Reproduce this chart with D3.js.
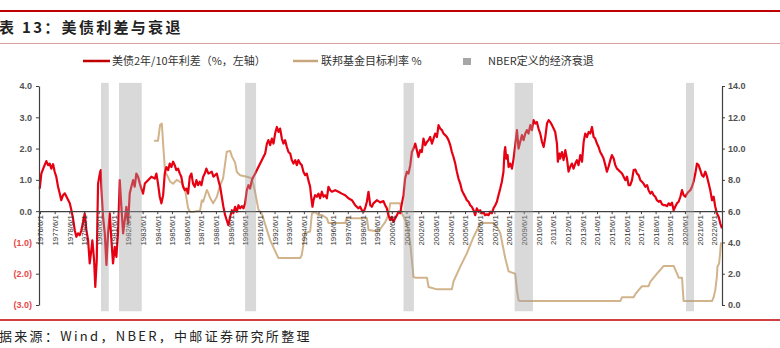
<!DOCTYPE html>
<html><head><meta charset="utf-8">
<script src="https://cdn.jsdelivr.net/npm/d3@7"></script>
<style>
html,body{margin:0;padding:0;background:#fff;}
svg{display:block;}
</style></head>
<body>
<svg id="chart" width="780" height="348"></svg>
<script>
// ---------------- DATA ----------------
const spreadDates = [
1976.40,1976.51,1976.69,1976.85,1976.97,1977.08,1977.19,1977.31,1977.42,1977.53,1977.65,1977.76,1977.87,1977.99,
1978.11,1978.28,1978.45,1978.56,1978.67,1978.79,1978.90,1979.01,1979.13,1979.24,1979.36,1979.47,1979.58,1979.70,
1979.81,1979.92,1979.99,1980.11,1980.19,1980.29,1980.33,1980.38,1980.50,1980.56,1980.60,1980.72,1980.84,1980.95,
1981.06,1981.18,1981.29,1981.40,1981.52,1981.63,1981.74,1981.86,1981.97,1982.09,1982.20,1982.31,1982.43,1982.54,
1982.65,1982.77,1982.88,1982.99,1983.11,1983.23,1983.33,1983.45,1983.57,1983.79,1984.02,1984.25,1984.36,1984.47,
1984.59,1984.70,1984.82,1984.93,1985.04,1985.16,1985.27,1985.38,1985.50,1985.61,1985.72,1985.84,1985.96,1986.06,
1986.18,1986.30,1986.41,1986.52,1986.64,1986.75,1986.86,1986.98,1987.09,1987.20,1987.32,1987.43,1987.55,1987.66,
1987.77,1987.91,1988.14,1988.25,1988.48,1988.59,1988.71,1988.82,1988.93,1989.05,1989.16,1989.27,1989.39,1989.51,
1989.61,1989.73,1989.85,1989.96,1990.07,1990.19,1990.30,1990.41,1990.53,1990.64,1990.75,1990.87,1990.98,1991.10,
1991.32,1991.55,1991.78,1991.90,1992.00,1992.12,1992.24,1992.35,1992.46,1992.58,1992.69,1992.80,1992.92,1993.03,
1993.14,1993.26,1993.37,1993.49,1993.60,1993.71,1993.83,1993.94,1994.05,1994.17,1994.28,1994.39,1994.51,1994.62,
1994.73,1994.85,1994.92,1995.01,1995.08,1995.19,1995.31,1995.42,1995.53,1995.65,1995.76,1995.87,1995.99,1996.10,
1996.22,1996.33,1996.56,1996.78,1997.01,1997.24,1997.46,1997.70,1997.92,1998.15,1998.26,1998.38,1998.49,1998.60,
1998.72,1998.83,1998.95,1999.06,1999.17,1999.40,1999.63,1999.85,1999.97,2000.08,2000.19,2000.31,2000.42,2000.54,
2000.65,2000.77,2000.88,2000.99,2001.11,2001.22,2001.33,2001.45,2001.56,2001.68,2001.79,2001.90,2002.02,2002.13,
2002.24,2002.36,2002.47,2002.58,2002.70,2002.82,2002.93,2003.04,2003.16,2003.27,2003.38,2003.50,2003.61,2003.72,
2003.84,2003.95,2004.06,2004.18,2004.29,2004.41,2004.52,2004.63,2004.75,2004.86,2004.97,2005.09,2005.20,2005.31,
2005.43,2005.54,2005.66,2005.77,2005.88,2006.00,2006.11,2006.22,2006.34,2006.45,2006.57,2006.68,2006.79,2006.91,
2007.02,2007.14,2007.25,2007.36,2007.48,2007.59,2007.70,2007.82,2007.93,2008.04,2008.11,2008.16,2008.23,2008.32,
2008.39,2008.50,2008.62,2008.73,2008.84,2008.96,2009.07,2009.18,2009.30,2009.41,2009.53,2009.64,2009.75,2009.87,
2009.98,2010.09,2010.21,2010.32,2010.43,2010.55,2010.67,2010.78,2010.89,2011.01,2011.12,2011.23,2011.35,2011.46,
2011.57,2011.69,2011.75,2011.85,2011.91,2012.03,2012.14,2012.26,2012.37,2012.48,2012.60,2012.71,2012.82,2012.94,
2013.05,2013.16,2013.28,2013.40,2013.51,2013.62,2013.74,2013.85,2013.96,2014.08,2014.19,2014.30,2014.42,2014.53,
2014.64,2014.76,2014.87,2014.99,2015.10,2015.21,2015.33,2015.44,2015.56,2015.67,2015.78,2015.90,2016.13,2016.36,
2016.47,2016.58,2016.69,2016.81,2016.92,2017.04,2017.15,2017.26,2017.38,2017.49,2017.60,2017.72,2017.84,2017.94,
2018.06,2018.17,2018.29,2018.40,2018.51,2018.63,2018.74,2018.86,2018.97,2019.08,2019.20,2019.31,2019.42,2019.54,
2019.65,2019.76,2019.88,2019.99,2020.11,2020.22,2020.33,2020.45,2020.56,2020.67,2020.79,2020.90,2021.01,2021.13,
2021.24,2021.35,2021.47,2021.58,2021.69,2021.81,2021.93,2022.04,2022.15,2022.27,2022.38,2022.49,2022.60,2022.72,
2022.83,2022.95];
const spreadValues = [
0.72,1.20,1.42,1.60,1.47,1.52,1.36,1.50,1.26,1.10,0.78,0.57,0.35,0.51,
0.57,0.41,0.25,0.03,-0.23,-0.61,-0.82,-0.71,-0.77,-0.61,-0.34,-0.07,-0.60,-0.93,
-1.67,-1.25,-0.93,-1.57,-2.42,-1.57,-0.39,0.88,1.20,1.31,0.78,-0.18,-0.71,-1.72,
-0.71,-0.07,-0.93,-1.67,-1.14,-1.46,-0.71,0.99,0.14,-0.71,-0.29,0.14,-0.39,0.56,
0.78,0.99,0.78,1.20,1.10,0.88,0.72,0.56,0.88,0.99,1.10,1.04,1.20,0.88,
0.46,0.25,0.51,1.20,1.41,1.31,1.52,1.41,1.58,1.47,1.31,1.36,1.20,1.10,
0.78,0.67,0.72,0.56,1.10,1.20,0.88,0.78,0.99,0.83,0.94,0.83,1.10,1.20,
1.36,1.20,1.26,1.10,1.20,0.99,0.78,0.46,0.14,-0.13,-0.29,-0.45,-0.18,0.03,
-0.07,0.14,-0.02,0.19,0.09,0.16,0.09,0.25,0.67,0.83,0.72,0.99,1.10,1.20,
1.41,1.63,1.84,2.16,2.27,2.11,2.32,2.16,2.48,2.69,2.53,2.64,2.32,2.16,
2.27,2.05,1.89,1.84,1.63,1.52,1.63,1.47,1.63,1.52,1.47,1.26,1.15,1.20,
0.99,0.78,0.46,0.14,0.35,0.51,0.46,0.56,0.41,0.62,0.46,0.51,0.41,0.78,
0.67,0.62,0.67,0.62,0.56,0.51,0.41,0.35,0.19,0.09,0.14,0.03,-0.02,0.09,
0.30,0.62,0.19,0.14,0.25,0.35,0.28,0.32,0.19,0.09,-0.13,-0.29,-0.18,-0.34,
-0.23,-0.13,-0.02,-0.07,0.25,0.51,1.04,1.26,1.20,1.47,1.89,2.00,2.16,1.95,
1.73,1.95,1.89,2.32,2.11,2.21,2.27,2.37,2.16,2.32,2.48,2.37,2.75,2.64,
2.59,2.48,2.43,2.37,2.27,2.11,1.89,1.73,1.52,1.26,1.04,0.88,0.67,0.56,
0.46,0.35,0.30,0.19,0.14,0.03,-0.13,0.09,-0.02,0.03,-0.07,-0.04,-0.13,-0.10,
-0.13,-0.02,-0.07,0.09,0.19,0.30,0.51,0.72,0.94,1.26,1.89,2.05,1.68,1.79,
1.41,1.52,1.36,1.68,2.11,2.59,2.00,2.21,2.43,2.27,2.48,2.59,2.48,2.75,
2.59,2.91,2.80,2.85,2.64,2.48,2.21,2.05,2.35,2.80,2.91,2.85,2.75,2.64,
2.53,2.16,1.58,1.84,1.68,1.89,1.63,1.95,1.68,1.26,1.42,1.52,1.36,1.52,
1.63,1.47,1.79,1.58,2.21,2.48,2.37,2.53,2.48,2.69,2.37,2.32,2.16,2.05,
1.89,1.79,1.68,1.47,1.26,1.42,1.63,1.79,1.68,1.47,1.36,1.31,1.20,0.99,
1.10,0.83,0.83,0.99,1.31,1.33,1.20,1.15,0.99,0.94,0.88,0.78,0.83,0.67,
0.56,0.62,0.51,0.46,0.35,0.30,0.33,0.22,0.19,0.19,0.16,0.25,0.19,0.27,
0.03,0.14,0.25,0.30,0.46,0.67,0.51,0.46,0.56,0.62,0.67,0.78,0.94,1.20,
1.52,1.47,1.31,1.15,1.10,1.26,1.10,0.88,0.67,0.35,0.46,0.14,-0.07,-0.18,
-0.39,-0.55];

const fedDates = [
1984.20,1984.47,1984.61,1984.73,1984.82,1984.95,1985.09,1985.29,1985.50,1985.75,1986.09,1986.32,1986.52,1986.66,
1986.86,1987.34,1987.46,1987.55,1987.80,1987.89,1988.02,1988.23,1988.48,1988.71,1988.91,1989.16,1989.39,1989.51,
1989.73,1989.85,1990.07,1990.53,1990.87,1991.10,1991.32,1991.55,1992.12,1992.58,1992.69,1994.17,1994.28,1994.51,
1994.85,1994.97,1995.19,1995.42,1995.65,1995.99,1996.10,1997.24,1997.35,1998.72,1998.83,1999.51,1999.74,1999.97,
2000.19,2000.31,2000.99,2001.11,2001.45,2001.68,2001.90,2002.02,2002.82,2002.93,2003.50,2004.52,2004.63,2005.09,
2005.54,2006.00,2006.45,2006.57,2007.36,2007.59,2007.82,2008.16,2008.39,2008.84,2008.96,2009.07,2009.18,2016.01,
2016.13,2016.92,2017.04,2017.26,2017.49,2017.94,2018.06,2018.29,2018.51,2018.74,2018.97,2019.65,2019.88,2019.99,
2020.22,2020.33,2022.27,2022.38,2022.49,2022.60,2022.64,2022.75,2022.82,2022.88];
const fedValues = [
10.5,10.5,11.5,11.6,10.3,8.5,8.3,7.9,7.75,8.0,7.8,7.35,6.2,5.95,
5.95,6.05,6.7,6.6,7.35,7.2,6.85,6.5,6.9,7.65,8.1,9.8,9.85,9.5,
9.1,8.5,8.3,8.2,8.1,7.2,6.1,5.85,4.15,3.2,3.0,3.0,3.2,4.6,
4.7,5.85,5.95,5.75,5.75,5.55,5.25,5.25,5.55,5.55,4.8,4.7,5.0,5.3,
5.75,6.5,6.5,5.85,5.2,3.95,1.8,1.75,1.75,1.15,1.0,1.0,1.5,2.45,
3.3,4.35,5.2,5.25,5.25,5.0,4.6,3.0,2.15,2.0,0.95,0.3,0.25,0.25,
0.5,0.5,0.7,0.95,1.2,1.2,1.5,1.75,2.0,2.25,2.5,2.5,2.0,1.75,
1.75,0.25,0.25,0.5,0.95,1.8,2.45,2.65,3.3,4.0];

const recessionStarts = [1980.58,1981.81,1990.41,2001.22,2008.80,2020.49];
const recessionEnds   = [1981.11,1983.36,1991.16,2001.93,2010.05,2021.04];

const leftTicks  = [-3,-2,-1,0,1,2,3,4];
const rightTicks = [0,2,4,6,8,10,12,14];
const xTickYears = d3.range(1976, 2023);
const xTickLabels = xTickYears.map(y => y + "/6/1");

const titleText  = "表 13：美债利差与衰退";
const sourceText = "据来源：Wind，NBER，中邮证券研究所整理";
const legendLabels = ["美债2年/10年利差（%，左轴）", "联邦基金目标利率 %", "NBER定义的经济衰退"];

// ---------------- CHART ----------------
const svg = d3.select("#chart");
const cRed = "#e60012", cTan = "#d2b48c", cAxis = "#404040";
const sans = "'Liberation Sans', Arial, sans-serif";
const cjk = "'Noto Sans CJK SC', 'Noto Sans', sans-serif";

const x  = d3.scaleLinear().domain([1976.35, 2022.95]).range([39, 722]);
const yL = d3.scaleLinear().domain([-3, 4]).range([305, 86]);
const yR = d3.scaleLinear().domain([0, 14]).range([305, 86]);

// header rules
svg.append("line").attr("x1",0).attr("x2",780).attr("y1",11).attr("y2",11)
  .attr("stroke","#c00000").attr("stroke-width",2.2);
svg.append("line").attr("x1",0).attr("x2",780).attr("y1",43.5).attr("y2",43.5)
  .attr("stroke","#dba0a0").attr("stroke-width",1);
svg.append("text").attr("x",-1).attr("y",33).text(titleText)
  .attr("font-family",cjk).attr("font-weight","bold").attr("font-size",15)
  .attr("letter-spacing","2.3px").attr("fill","#222");

// footer
svg.append("line").attr("x1",0).attr("x2",780).attr("y1",320).attr("y2",320)
  .attr("stroke","#c00000").attr("stroke-width",1.5);
svg.append("text").attr("x",-1).attr("y",341).text(sourceText)
  .attr("font-family",cjk).attr("font-size",13)
  .attr("letter-spacing","2.3px").attr("fill","#222");

// legend
const lg = svg.append("g").attr("font-family",cjk).attr("font-size",11).attr("fill","#333");
lg.append("line").attr("x1",83).attr("x2",110).attr("y1",61).attr("y2",61)
  .attr("stroke","#c00000").attr("stroke-width",2.5);
lg.append("text").attr("x",112).attr("y",65).text(legendLabels[0]);
lg.append("line").attr("x1",293).attr("x2",318).attr("y1",61).attr("y2",61)
  .attr("stroke","#c8a67e").attr("stroke-width",2.5);
lg.append("text").attr("x",321).attr("y",65).text(legendLabels[1]);
lg.append("rect").attr("x",463).attr("y",58).attr("width",8).attr("height",7).attr("fill","#a6a6a6");
lg.append("text").attr("x",488).attr("y",65).text(legendLabels[2]);

// lines
const spread = spreadDates.map((d,i)=>[d, spreadValues[i]]);
const fed = fedDates.map((d,i)=>[d, fedValues[i]]);

svg.append("path").datum(fed)
  .attr("d", d3.line().x(d=>x(d[0])).y(d=>yR(d[1])))
  .attr("fill","none").attr("stroke",cTan).attr("stroke-width",2).attr("stroke-linejoin","round");

svg.append("path").datum(spread)
  .attr("d", d3.line().x(d=>x(d[0])).y(d=>yL(d[1])))
  .attr("fill","none").attr("stroke",cRed).attr("stroke-width",2.2).attr("stroke-linejoin","round");

// left axis
const gL = svg.append("g").attr("transform","translate(39,0)")
  .call(d3.axisLeft(yL).tickValues(leftTicks).tickSize(3).tickSizeOuter(0)
    .tickFormat(v => v < 0 ? "(" + d3.format(".1f")(-v) + ")" : d3.format(".1f")(v)));
gL.select(".domain").attr("stroke",cAxis).attr("stroke-width",1.2);
gL.selectAll(".tick line").attr("stroke",cAxis);
gL.selectAll("text").attr("font-family",sans).attr("font-size",9).attr("font-weight","bold")
  .attr("x",-7).attr("fill", d => d < 0 ? "#e84a4a" : "#505050");

// right axis
const gR = svg.append("g").attr("transform","translate(722,0)")
  .call(d3.axisRight(yR).tickValues(rightTicks).tickSize(3).tickSizeOuter(0).tickFormat(d3.format(".1f")));
gR.select(".domain").attr("stroke",cAxis).attr("stroke-width",1.2);
gR.selectAll(".tick line").attr("stroke",cAxis);
gR.selectAll("text").attr("font-family",sans).attr("font-size",9).attr("font-weight","bold")
  .attr("x",6).attr("fill","#505050");

// x axis on zero line
const gX = svg.append("g").attr("transform",`translate(0,${yL(0)})`)
  .call(d3.axisBottom(x).tickValues(xTickYears.map(y=>y+0.42)).tickSize(3).tickSizeOuter(0)
    .tickFormat((d,i)=>xTickLabels[i]));
gX.select(".domain").attr("stroke",cAxis).attr("stroke-width",1.3);
gX.selectAll(".tick line").attr("stroke",cAxis);
gX.selectAll("text").attr("font-family",sans).attr("font-size",7.8).attr("fill","#333")
  .attr("transform","rotate(-90)").attr("x",-4).attr("y",0).attr("dy","0.35em")
  .style("text-anchor","end");

// recession bands (drawn on top, semi-transparent)
svg.append("g").selectAll("rect").data(recessionStarts).join("rect")
  .attr("x", (d)=>x(d))
  .attr("width", (d,i)=>x(recessionEnds[i]) - x(d))
  .attr("y", yL(4.1))
  .attr("height", yL(-3.2) - yL(4.1))
  .attr("fill","rgb(160,160,160)").attr("fill-opacity",0.4);
</script>
</body></html>
